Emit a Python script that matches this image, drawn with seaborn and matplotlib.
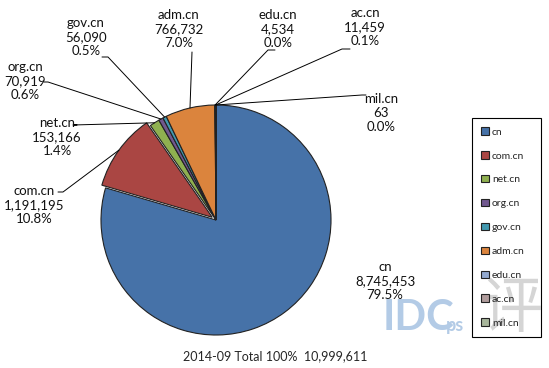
import numpy as np
import seaborn as sns
import matplotlib.pyplot as plt

sns.set_style("white")
plt.rcParams['font.family'] = ['Lato', 'DejaVu Sans']

domains = ['cn', 'com.cn', 'net.cn', 'org.cn', 'gov.cn', 'adm.cn', 'edu.cn', 'ac.cn', 'mil.cn']
counts = [8745453, 1191195, 153166, 70919, 56090, 766732, 4534, 11459, 63]
shares = ['79.5%', '10.8%', '1.4%', '0.6%', '0.5%', '7.0%', '0.0%', '0.1%', '0.0%']
colors = ['#4672A8', '#AA4643', '#8FB050', '#71588F', '#4198AF', '#DB843D',
          '#93A9CF', '#B09C9C', '#A7B59A']
total_label = '2014-09 Total 100%  10,999,611'

# label centres (pixel coords, y from top) and leader end points
label_pos = {
    'cn': (385, 281), 'com.cn': (34, 205), 'net.cn': (57, 137),
    'org.cn': (25, 81), 'gov.cn': (86, 37), 'adm.cn': (179, 29),
    'edu.cn': (278, 29), 'ac.cn': (365, 27), 'mil.cn': (381, 113),
}
leader_end = {
    'com.cn': (63, 192), 'net.cn': (73, 125), 'org.cn': (48, 82),
    'gov.cn': (108, 57), 'adm.cn': (192, 52), 'edu.cn': (268, 50),
    'ac.cn': (342, 49), 'mil.cn': (362, 95),
}
leader_tail = {'gov.cn': 102, 'edu.cn': 275, 'ac.cn': 350, 'mil.cn': 366,
               'org.cn': 44, 'net.cn': 77, 'com.cn': 58, 'adm.cn': 192}

W, H = 549, 368
fig = plt.figure(figsize=(W / 100, H / 100), dpi=100)
ax = fig.add_axes([0, 0, 1, 1])

cx, cy, r = 216, H - 220, 115
explode = [0, 0.04, 0, 0, 0, 0, 0, 0, 0]
wedges, _ = ax.pie(counts, colors=colors, startangle=90, counterclock=False,
                   center=(cx, cy), radius=r, explode=[e * r for e in explode],
                   wedgeprops=dict(edgecolor='#222222', linewidth=0.8), frame=True)
ax.set_xlim(0, W)
ax.set_ylim(0, H)
ax.set_aspect('equal')
ax.axis('off')

fs = 9.5
for w, name, cnt, sh in zip(wedges, domains, counts, shares):
    lx, ly = label_pos[name]
    ax.text(lx, H - ly, f'{name}\n{cnt:,}\n{sh}', ha='center', va='center',
            fontsize=fs, linespacing=1.22, color='#111111', zorder=5)
    if name in leader_end:
        mid = np.deg2rad((w.theta1 + w.theta2) / 2)
        wx, wy = w.center
        px, py = wx + r * np.cos(mid), wy + r * np.sin(mid)
        ex, ey = leader_end[name]
        ax.plot([px, ex, leader_tail[name]], [py, H - ey, H - ey],
                color='black', lw=0.7)

ax.text(275, H - 356, total_label, ha='center', va='center', fontsize=9)

# watermark
ax.text(383, H - 318, 'IDC', fontsize=30, color='#B3CBE6', fontweight='bold',
        ha='left', va='center', zorder=0)
ax.text(446, H - 326, 'ps', fontsize=13, color='#B3CBE6', fontweight='bold',
        ha='left', va='center', zorder=0)
ax.text(512, H - 310, '评', fontsize=44, color='#D5D5D5', ha='center', va='center',
        family=['Noto Sans CJK SC', 'DejaVu Sans'], zorder=0)

leg = ax.legend(wedges, domains, loc='upper left',
                bbox_to_anchor=(472 / W, 1 - 330 / H, 69 / W, 212 / H),
                bbox_transform=fig.transFigure, mode='expand',
                fontsize=7.5, frameon=True, fancybox=False, handlelength=0.7,
                handleheight=0.7, handletextpad=0.3, labelspacing=1.4,
                borderpad=0.9, borderaxespad=0)
leg.get_frame().set_edgecolor('black')
leg.get_frame().set_linewidth(0.8)
leg.get_frame().set_alpha(None)
leg.get_frame().set_facecolor((1, 1, 1, 0))

fig.savefig('out.png', dpi=100)
